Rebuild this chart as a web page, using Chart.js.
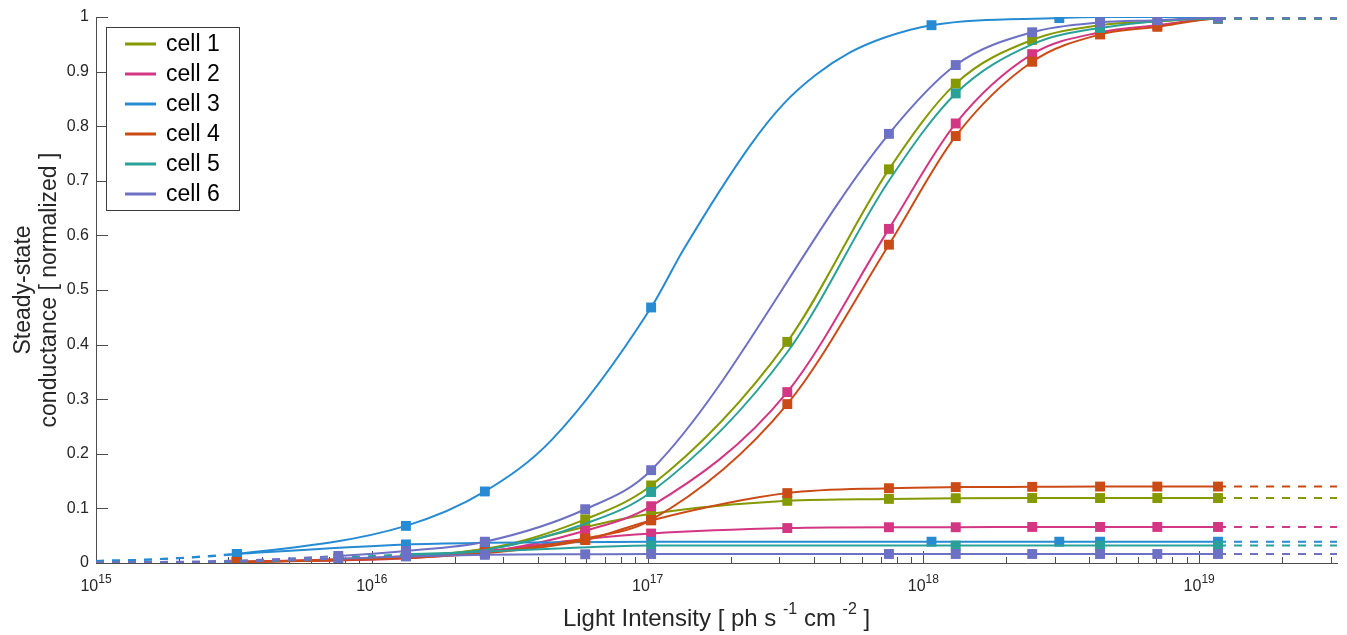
<!DOCTYPE html>
<html>
<head>
<meta charset="utf-8">
<script src="https://cdn.jsdelivr.net/npm/chart.js@4.4.1/dist/chart.umd.min.js"></script>
<style>
  html, body { margin: 0; padding: 0; background: #fff; }
  #wrap { width: 1347px; height: 635px; position: relative; }
</style>
</head>
<body>
<div id="wrap"><canvas id="my-chart"></canvas></div>
<script>
//Canvas Element for chart.js
let ctx = document.getElementById('my-chart');

//Axis range and ticks
let X_MIN = 1e15;
let X_MAX = 3.16e19;
let xDecades = [1e15, 1e16, 1e17, 1e18, 1e19];
let xDecadeExponents = ['15', '16', '17', '18', '19'];
let yTicks = [0, 0.1, 0.2, 0.3, 0.4, 0.5, 0.6, 0.7, 0.8, 0.9, 1];
let yTickLabels = ['0', '0.1', '0.2', '0.3', '0.4', '0.5', '0.6', '0.7', '0.8', '0.9', '1'];

//x title pieces, [text, superscript?]
let xTitleParts = [['Light Intensity [ ph s ', false], ['-1', true], [' cm ', false], ['-2', true], [' ]', false]];

//Measured intensities (ph s-1 cm-2)
let intensityA = [3.24e15, 2.57e16, 5.94e16, 1.03e17, 3.21e17, 7.5e17, 1.31e18, 2.48e18, 4.37e18, 7.05e18, 1.17e19]; // cells 1, 2, 4
let intensityB = [3.24e15, 1.33e16, 2.57e16, 1.03e17, 1.07e18, 3.11e18, 4.37e18, 1.17e19]; // cell 3
let intensityC = [1.33e16, 1.03e17, 1.31e18, 4.37e18, 1.17e19]; // cell 5
let intensityD = [7.56e15, 1.33e16, 2.57e16, 5.94e16, 1.03e17, 7.5e17, 1.31e18, 2.48e18, 4.37e18, 7.05e18, 1.17e19]; // cell 6

//Steady-state conductance, upper (normalized) and lower curves
let cell1Hi = [0.002, 0.026, 0.080, 0.142, 0.405, 0.721, 0.878, 0.958, 0.985, 0.992, 0.998];
let cell1Lo = [0.002, 0.025, 0.066, 0.090, 0.1138, 0.1174, 0.1187, 0.119, 0.119, 0.119, 0.119];
let cell2Hi = [0.002, 0.020, 0.059, 0.104, 0.313, 0.612, 0.805, 0.932, 0.972, 0.985, 0.997];
let cell2Lo = [0.002, 0.022, 0.044, 0.054, 0.064, 0.0655, 0.0655, 0.066, 0.066, 0.066, 0.066];
let cell3Hi = [0.0165, 0.068, 0.131, 0.468, 0.985, 0.998, 1.0, 1.0];
let cell3Lo = [0.0165, 0.034, 0.037, 0.039, 0.039, 0.039, 0.039, 0.039];
let cell4Hi = [0.002, 0.020, 0.045, 0.079, 0.291, 0.583, 0.782, 0.918, 0.968, 0.982, 0.997];
let cell4Lo = [0.002, 0.018, 0.042, 0.078, 0.128, 0.137, 0.139, 0.1395, 0.14, 0.14, 0.14];
let cell5Hi = [0.016, 0.130, 0.860, 0.980, 0.997];
let cell5Lo = [0.014, 0.032, 0.032, 0.032, 0.032];
let cell6Hi = [0.013, 0.022, 0.039, 0.0985, 0.170, 0.786, 0.912, 0.972, 0.990, 0.994, 0.999];
let cell6Lo = [0.008, 0.012, 0.015, 0.016, 0.0165, 0.0165, 0.0165, 0.0165, 0.0165, 0.0165, 0.0165];

//Dashed fit extension below the first measurement
let leadA = [1e15];
let leadAHi = [0.0003];
let leadALo = [0.0003];
let leadB = [1e15, 1.8e15];
let leadBHi = [0.0035, 0.0078];
let leadBLo = [0.0035, 0.0078];
let leadC = [1e15, 4e15];
let leadCHi = [0.0006, 0.004];
let leadCLo = [0.0006, 0.0036];
let leadD = [1e15, 3e15];
let leadDHi = [0.001, 0.004];
let leadDLo = [0.0007, 0.0026];

//Extra points on the fitted curves between measurements
let fit3X = [4.5e16, 1.35e17, 2.35e17, 3.1e17, 4.1e17, 5.42e17, 7.2e17];
let fit3Hi = [0.226, 0.574, 0.764, 0.840, 0.895, 0.935, 0.962];
let fit5X = [2.57e16, 5.94e16, 3.21e17, 7.5e17, 2.48e18];
let fit5Hi = [0.024, 0.072, 0.386, 0.700, 0.950];
let fit5LoX = [2.57e16, 5.0e16];
let fit5Lo = [0.021, 0.027];

let fontFamily = '"Liberation Sans", Arial, Helvetica, sans-serif';
Chart.defaults.font.family = fontFamily;

function Cell(name, color, xs, hi, lo, lead, leadHi, leadLo, fitX, fitHi, fitLoX, fitLo) {
  this.name = name;
  this.color = color;
  this.xs = xs;
  this.hi = hi;
  this.lo = lo;
  this.lead = lead;
  this.leadHi = leadHi;
  this.leadLo = leadLo;
  this.fitX = fitX || [];
  this.fitHi = fitHi || [];
  this.fitLoX = fitLoX || [];
  this.fitLo = fitLo || [];
}

let cells = [
  new Cell('cell 1', '#859900', intensityA, cell1Hi, cell1Lo, leadA, leadAHi, leadALo),
  new Cell('cell 2', '#d33682', intensityA, cell2Hi, cell2Lo, leadA, leadAHi, leadALo),
  new Cell('cell 3', '#268bd2', intensityB, cell3Hi, cell3Lo, leadB, leadBHi, leadBLo, fit3X, fit3Hi),
  new Cell('cell 4', '#cb4b16', intensityA, cell4Hi, cell4Lo, leadA, leadAHi, leadALo),
  new Cell('cell 5', '#2aa198', intensityC, cell5Hi, cell5Lo, leadC, leadCHi, leadCLo, fit5X, fit5Hi, fit5LoX, fit5Lo),
  new Cell('cell 6', '#6c71c4', intensityD, cell6Hi, cell6Lo, leadD, leadDHi, leadDLo)
];

//lead (dashed) + measured and fit points (solid) + flat tail to the axis end (dashed)
function curvePoints(lead, leadY, xs, ys, fitX, fitY) {
  let pts = [];
  for (let i = 0; i < lead.length; i++) {
    pts.push({ x: lead[i], y: leadY[i] });
  }
  let body = [];
  for (let i = 0; i < xs.length; i++) {
    body.push({ x: xs[i], y: ys[i] });
  }
  for (let i = 0; i < fitX.length; i++) {
    body.push({ x: fitX[i], y: fitY[i] });
  }
  body.sort((a, b) => a.x - b.x);
  pts = pts.concat(body);
  pts.push({ x: X_MAX, y: ys[ys.length - 1] });
  return pts;
}

function curveDataset(cell, pts, leadCount, order) {
  let lastSolid = pts.length - 2;
  return {
    data: pts,
    showLine: true,
    borderColor: cell.color,
    backgroundColor: cell.color,
    borderWidth: 2,
    pointRadius: 0,
    pointHoverRadius: 0,
    cubicInterpolationMode: 'monotone',
    fill: false,
    order: order,
    segment: {
      borderDash: c => (c.p1DataIndex <= leadCount || c.p0DataIndex >= lastSolid) ? [8, 8] : undefined
    }
  };
}

let datasets = [];
cells.forEach((cell, i) => {
  let hiPts = curvePoints(cell.lead, cell.leadHi, cell.xs, cell.hi, cell.fitX, cell.fitHi);
  let loPts = curvePoints(cell.lead, cell.leadLo, cell.xs, cell.lo, cell.fitLoX, cell.fitLo);
  datasets.push(curveDataset(cell, loPts, cell.lead.length, 100 - i * 10));
  datasets.push(curveDataset(cell, hiPts, cell.lead.length, 99 - i * 10));

  let marks = [];
  for (let k = 0; k < cell.xs.length; k++) {
    marks.push({ x: cell.xs[k], y: cell.lo[k] });
    marks.push({ x: cell.xs[k], y: cell.hi[k] });
  }
  datasets.push({
    data: marks,
    showLine: false,
    pointStyle: 'rect',
    pointRadius: 7,
    pointHoverRadius: 7,
    pointBorderWidth: 0,
    pointBackgroundColor: cell.color,
    pointBorderColor: cell.color,
    order: 98 - i * 10
  });
});

//minor ticks at 2..9 of every decade
let xTicks = [];
xDecades.forEach(d => {
  for (let m = 1; m <= 9; m++) {
    if (m * d <= X_MAX * 1.0001) {
      xTicks.push(m * d);
    }
  }
});

function decadeIndex(v) {
  return xDecades.findIndex(d => Math.abs(v / d - 1) < 1e-9);
}

//tick marks drawn on the inside of the axes
const innerTicks = {
  id: 'innerTicks',
  beforeDatasetsDraw(chart) {
    const c = chart.ctx;
    const a = chart.chartArea;
    const x = chart.scales.x;
    const y = chart.scales.y;
    c.save();
    c.strokeStyle = '#4d4d4d';
    c.lineWidth = 1;
    c.beginPath();
    x.ticks.forEach(t => {
      const px = Math.round(x.getPixelForValue(t.value)) + 0.5;
      const len = decadeIndex(t.value) >= 0 ? 12 : 6;
      c.moveTo(px, a.bottom);
      c.lineTo(px, a.bottom - len);
    });
    y.ticks.forEach(t => {
      const py = Math.round(y.getPixelForValue(t.value)) + 0.5;
      c.moveTo(a.left, py);
      c.lineTo(a.left + 12, py);
    });
    c.stroke();
    c.restore();
  }
};

//powers of ten under the x axis and the x axis title, with raised exponents
const xLabels = {
  id: 'xLabels',
  afterDraw(chart) {
    const c = chart.ctx;
    const a = chart.chartArea;
    const x = chart.scales.x;
    c.save();
    c.fillStyle = '#262626';
    c.textBaseline = 'alphabetic';
    c.textAlign = 'left';
    xDecades.forEach((d, i) => {
      const px = x.getPixelForValue(d);
      c.font = '16px ' + fontFamily;
      const wBase = c.measureText('10').width;
      c.font = '12px ' + fontFamily;
      const wExp = c.measureText(xDecadeExponents[i]).width;
      const left = px - (wBase + wExp) / 2;
      c.font = '16px ' + fontFamily;
      c.fillText('10', left, a.bottom + 28);
      c.font = '12px ' + fontFamily;
      c.fillText(xDecadeExponents[i], left + wBase, a.bottom + 20);
    });

    let total = 0;
    xTitleParts.forEach(p => {
      c.font = (p[1] ? '16px ' : '24px ') + fontFamily;
      total += c.measureText(p[0]).width;
    });
    let tx = (a.left + a.right) / 2 - total / 2;
    xTitleParts.forEach(p => {
      c.font = (p[1] ? '16px ' : '24px ') + fontFamily;
      c.fillText(p[0], tx, p[1] ? 614 : 626);
      tx += c.measureText(p[0]).width;
    });
    c.restore();
  }
};

//boxed legend in the upper left corner of the plot
const cellLegend = {
  id: 'cellLegend',
  afterDraw(chart) {
    const c = chart.ctx;
    const a = chart.chartArea;
    const left = a.left + 10;
    const top = a.top + 10;
    c.save();
    c.fillStyle = '#fff';
    c.fillRect(left, top, 133, 183);
    c.strokeStyle = '#3c3c3c';
    c.lineWidth = 1;
    c.strokeRect(left + 0.5, top + 0.5, 133, 183);
    c.font = '23px ' + fontFamily;
    c.textBaseline = 'middle';
    cells.forEach((cell, i) => {
      const ly = top + 17 + i * 30;
      c.strokeStyle = cell.color;
      c.lineWidth = 3;
      c.beginPath();
      c.moveTo(left + 19, ly);
      c.lineTo(left + 50, ly);
      c.stroke();
      c.fillStyle = '#000';
      c.fillText(cell.name, left + 60, ly + 1);
    });
    c.restore();
  }
};

let chartObject = {
  type: 'scatter',
  data: { datasets: datasets },
  plugins: [innerTicks, xLabels, cellLegend],
  options: {
    responsive: true,
    maintainAspectRatio: false,
    devicePixelRatio: 1,
    animation: false,
    events: [],
    layout: { padding: { top: 17, right: 10, left: 0, bottom: 0 } },
    plugins: {
      legend: { display: false },
      tooltip: { enabled: false }
    },
    scales: {
      x: {
        type: 'logarithmic',
        min: X_MIN,
        max: X_MAX,
        afterBuildTicks: scale => { scale.ticks = xTicks.map(v => ({ value: v })); },
        afterFit: scale => { scale.height = 72; },
        grid: { display: false, drawTicks: false },
        border: { display: true, color: '#4d4d4d', width: 1 },
        ticks: { display: false, autoSkip: false, maxRotation: 0, minRotation: 0 },
        title: { display: false }
      },
      y: {
        type: 'linear',
        min: 0,
        max: 1,
        afterBuildTicks: scale => { scale.ticks = yTicks.map(v => ({ value: v })); },
        afterFit: scale => { scale.width = 96; },
        grid: { display: false, drawTicks: false },
        border: { display: true, color: '#4d4d4d', width: 1 },
        ticks: {
          padding: 7,
          color: '#262626',
          font: { size: 16 },
          callback: (v, i) => yTickLabels[i]
        },
        title: {
          display: true,
          text: ['Steady-state', 'conductance [ normalized ]'],
          color: '#262626',
          font: { size: 23, lineHeight: 1.15 },
          padding: { top: 10, bottom: 0 }
        }
      }
    }
  }
};

const myChart = new Chart(ctx, chartObject); //eslint-disable-line
</script>
</body>
</html>
